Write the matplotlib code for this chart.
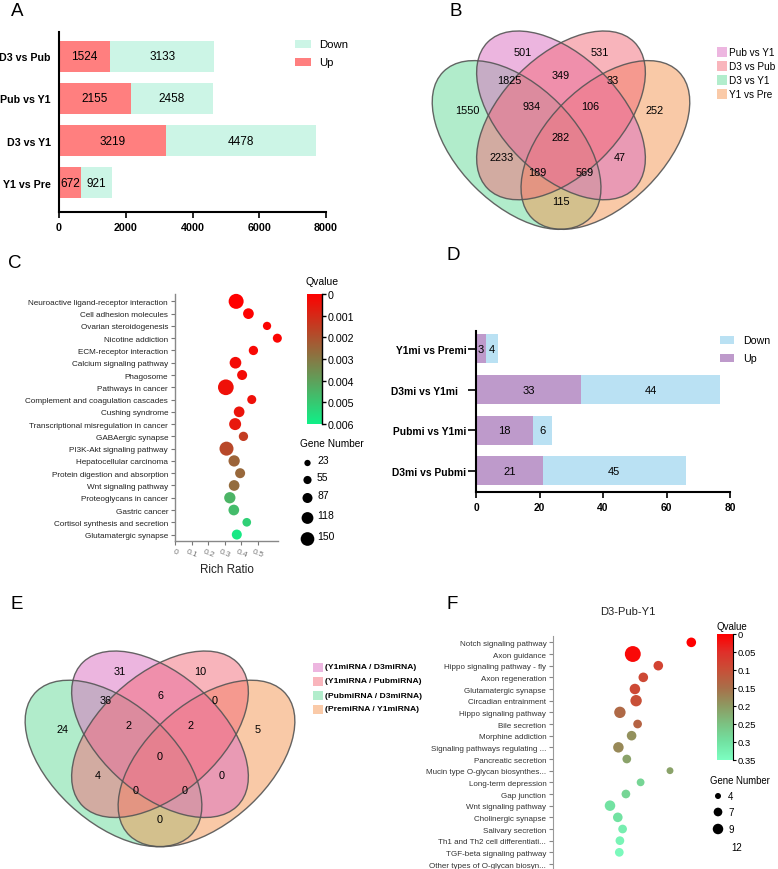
import matplotlib
matplotlib.use('Agg')
import matplotlib.pyplot as plt
import numpy as np
from matplotlib.patches import Ellipse, Rectangle
from matplotlib.colors import LinearSegmentedColormap

plt.rcParams['font.family'] = ['Liberation Sans', 'DejaVu Sans']

# ---------------- data ----------------
# A: DEG mRNA
a_groups = ['D3 vs Pub', 'Pub vs Y1', 'D3 vs Y1', 'Y1 vs Pre']
a_up = [1524, 2155, 3219, 672]
a_down = [3133, 2458, 4478, 921]

# B / E: venn counts, region order:
# S1, S2, S1S3, S1S2, S2S4, S3, S1S2S3, S1S2S4, S4, all, S2S3, S1S4, S2S3S4, S1S3S4, S3S4
b_sets = ['Pub vs Y1', 'D3 vs Pub', 'D3 vs Y1', 'Y1 vs Pre']
b_counts = [501, 531, 1825, 349, 33, 1550, 934, 106, 252, 282, 2233, 47, 189, 569, 115]
e_sets = ['(Y1miRNA / D3miRNA)', '(Y1miRNA / PubmiRNA)', '(PubmiRNA / D3miRNA)', '(PremiRNA / Y1miRNA)']
e_counts = [31, 10, 36, 6, 0, 24, 2, 2, 5, 0, 4, 0, 0, 0, 0]

# C: KEGG mRNA
c_terms = ['Neuroactive ligand-receptor interaction', 'Cell adhesion molecules',
           'Ovarian steroidogenesis', 'Nicotine addiction', 'ECM-receptor interaction',
           'Calcium signaling pathway', 'Phagosome', 'Pathways in cancer',
           'Complement and coagulation cascades', 'Cushing syndrome',
           'Transcriptional misregulation in cancer', 'GABAergic synapse',
           'PI3K-Akt signaling pathway', 'Hepatocellular carcinoma',
           'Protein digestion and absorption', 'Wnt signaling pathway',
           'Proteoglycans in cancer', 'Gastric cancer',
           'Cortisol synthesis and secretion', 'Glutamatergic synapse']
c_ratio = [0.368, 0.442, 0.554, 0.616, 0.472, 0.364, 0.404, 0.306, 0.462, 0.386,
           0.362, 0.412, 0.31, 0.356, 0.392, 0.356, 0.33, 0.354, 0.432, 0.372]
c_q = [0.0, 0.00005, 0.0001, 0.0001, 0.0002, 0.0003, 0.0003, 0.0004, 0.0004, 0.0005,
       0.0006, 0.0015, 0.0018, 0.0025, 0.0026, 0.0027, 0.0045, 0.0047, 0.0052, 0.0058]
c_genes = [173, 99, 57, 70, 75, 116, 87, 185, 70, 99, 121, 75, 156, 109, 87, 99, 109, 99, 64, 87]
c_legend = [23, 55, 87, 118, 150]
c_qticks = [0, 0.001, 0.002, 0.003, 0.004, 0.005, 0.006]

# D: DE miRNA
d_groups = ['Y1mi vs Premi', 'D3mi vs Y1mi   ', 'Pubmi vs Y1mi', 'D3mi vs Pubmi']
d_up = [3, 33, 18, 21]
d_down = [4, 44, 6, 45]

# F: KEGG D3-Pub-Y1
f_terms = ['Notch signaling pathway', 'Axon guidance', 'Hippo signaling pathway - fly',
           'Axon regeneration', 'Glutamatergic synapse', 'Circadian entrainment',
           'Hippo signaling pathway', 'Bile secretion', 'Morphine addiction',
           'Signaling pathways regulating ...', 'Pancreatic secretion',
           'Mucin type O-glycan biosynthes...', 'Long-term depression', 'Gap junction',
           'Wnt signaling pathway', 'Cholinergic synapse', 'Salivary secretion',
           'Th1 and Th2 cell differentiati...', 'TGF-beta signaling pathway',
           'Other types of O-glycan biosyn...']
f_ratio = [0.46, 0.265, 0.35, 0.30, 0.272, 0.276, 0.222, 0.281, 0.261, 0.217, 0.245,
           0.389, 0.291, 0.242, 0.189, 0.215, 0.231, 0.222, 0.22, np.nan]
f_q = [0.0, 0.01, 0.08, 0.09, 0.09, 0.10, 0.14, 0.13, 0.19, 0.18, 0.21, 0.21, 0.28,
       0.28, 0.30, 0.30, 0.32, 0.33, 0.34, np.nan]
f_genes = [8, 15, 8, 8, 9, 10, 10, 7, 8, 9, 7, 5, 6, 7, 9, 8, 7, 7, 7, np.nan]
f_legend = [4, 7, 9, 12]
f_qticks = [0, 0.05, 0.1, 0.15, 0.2, 0.25, 0.3, 0.35]

# ---------------- layout helpers ----------------
W, H = 778, 870
fig = plt.figure(figsize=(W / 100, H / 100), dpi=100)


def box(x0, y0, x1, y1):
    return [x0 / W, 1 - y1 / H, (x1 - x0) / W, (y1 - y0) / H]


def ftext(x, y, s, **kw):
    fig.text(x / W, 1 - y / H, s, **kw)


def swatch(x, y, w, h, color):
    fig.add_artist(Rectangle((x / W, 1 - (y + h / 2) / H), w / W, h / H,
                             transform=fig.transFigure, facecolor=color, edgecolor='none'))


def light(c, a=0.5):
    c = np.array(matplotlib.colors.to_rgb(c))
    return tuple(c * a + (1 - a))


# panel letters
for s, x, y in [('A', 17, 12), ('B', 456, 11), ('C', 15, 264), ('D', 453, 255),
                ('E', 17, 605), ('F', 452, 605)]:
    ftext(x, y, s, fontsize=13.5, ha='center', va='center')

# ---------------- A ----------------
up_c, down_c = '#FF7F7F', '#CCF5E6'
axA = fig.add_axes(box(59, 33, 326, 213))
pos = np.arange(len(a_groups))
axA.barh(pos, a_up, height=0.73, color=up_c)
axA.barh(pos, a_down, left=a_up, height=0.73, color=down_c)
for i in range(len(a_groups)):
    axA.text(a_up[i] / 2, i, str(a_up[i]), ha='center', va='center', fontsize=8.5)
    axA.text(a_up[i] + a_down[i] / 2, i, str(a_down[i]), ha='center', va='center', fontsize=8.5)
axA.set_xlim(0, 8000)
axA.set_ylim(3.69, -0.57)
axA.set_yticks(pos)
axA.set_yticklabels(a_groups, fontweight='bold', fontsize=7.7)
axA.tick_params(axis='y', length=0, pad=6)
axA.set_xticks([0, 2000, 4000, 6000, 8000])
axA.set_xticklabels(['0', '2000', '4000', '6000', '8000'], fontweight='bold', fontsize=7.7)
axA.tick_params(axis='x', length=4, width=1.2, pad=3)
for sp in ['top', 'right']:
    axA.spines[sp].set_visible(False)
for sp in ['left', 'bottom']:
    axA.spines[sp].set_linewidth(1.5)
swatch(295, 45, 16, 8.7, down_c)
swatch(295, 63, 16, 8.7, up_c)
ftext(319, 45, 'Down', fontsize=8.2, va='center')
ftext(319, 63, 'Up', fontsize=8.2, va='center')

# ---------------- Venn helper ----------------
venn_cols = ['#DB6DC1', '#F36B79', '#65DB99', '#F59551']
ell_center = [(0.5, 0.57), (0.5, 0.57), (0.35, 0.47), (0.65, 0.47)]
ell_angle = [135, 45, 135, 45]
label_xy = [(0.37, 0.785), (0.63, 0.785), (0.325, 0.688), (0.5, 0.706), (0.675, 0.688),
            (0.185, 0.588), (0.40, 0.60), (0.60, 0.60), (0.815, 0.588), (0.5, 0.497),
            (0.30, 0.43), (0.70, 0.43), (0.42, 0.38), (0.58, 0.38), (0.5, 0.28)]


def venn4(ax, counts):
    for k in [2, 3, 0, 1]:
        ax.add_patch(Ellipse(ell_center[k], 0.7, 0.4, angle=ell_angle[k],
                             facecolor=venn_cols[k], alpha=0.5, edgecolor='none'))
    for k in range(4):
        ax.add_patch(Ellipse(ell_center[k], 0.7, 0.4, angle=ell_angle[k],
                             facecolor='none', edgecolor='#555555', lw=1.0, alpha=0.9))
    for (x, y), n in zip(label_xy, counts):
        ax.text(x, y, str(n), ha='center', va='center', fontsize=7.8)
    ax.set_xlim(0, 1)
    ax.set_ylim(0.15, 0.9)
    ax.axis('off')


# B
axB = fig.add_axes(box(413, 18.7, 709, 240.7))
venn4(axB, b_counts)
for i, s in enumerate(b_sets):
    y = 53 + i * 14
    swatch(717, y, 10, 10, light(venn_cols[i]))
    ftext(729, y, s, fontsize=7.2, va='center')

# E
axE = fig.add_axes(box(5, 638.9, 315, 857.9))
venn4(axE, e_counts)
for i, s in enumerate(e_sets):
    y = 668 + i * 14
    swatch(313, y, 10, 9, light(venn_cols[i]))
    ftext(325, y, s, fontsize=6.1, fontweight='bold', va='center')

# ---------------- C ----------------
cmapC = LinearSegmentedColormap.from_list('qc', ['#FF0000', '#10F088'])
axC = fig.add_axes(box(175, 295, 278, 541.7))
yc = np.arange(len(c_terms))
sizeC = [((6.3 + 0.058 * (g - 23)) * 0.72) ** 2 for g in c_genes]
axC.scatter(c_ratio, yc, s=sizeC, c=c_q, cmap=cmapC, vmin=0, vmax=0.006, linewidths=0,
            zorder=3, clip_on=False)
axC.set_xlim(0, 0.62)
axC.set_ylim(19.5, -0.6)
axC.set_yticks(yc)
axC.set_yticklabels(c_terms, fontsize=5.9, color='#222222')
axC.set_xticks([0, 0.1, 0.2, 0.3, 0.4, 0.5])
axC.set_xticklabels(['0', '0.1', '0.2', '0.3', '0.4', '0.5'], rotation=-22, fontsize=6,
                    color='#777777', ha='center')
axC.tick_params(axis='both', length=3, width=0.8, color='#777777', pad=2)
for sp in ['top', 'right']:
    axC.spines[sp].set_visible(False)
for sp in ['left', 'bottom']:
    axC.spines[sp].set_color('#888888')
    axC.spines[sp].set_linewidth(1)
ftext(227, 570, 'Rich Ratio', fontsize=8.4, ha='center', va='center', color='#222222')

caxC = fig.add_axes(box(307, 295, 322, 425))
caxC.imshow(np.linspace(0, 0.006, 256)[:, None], aspect='auto', cmap=cmapC,
            extent=[0, 1, 0.006, 0], vmin=0, vmax=0.006)
caxC.set_ylim(0.006, 0)
caxC.set_xticks([])
caxC.yaxis.tick_right()
caxC.set_yticks(c_qticks)
caxC.set_yticklabels([str(v) for v in c_qticks], fontsize=7.7)
caxC.tick_params(axis='y', length=3, width=1, pad=1)
for sp in ['top', 'left', 'bottom']:
    caxC.spines[sp].set_visible(False)
caxC.spines['right'].set_linewidth(1)
ftext(322, 282, 'Qvalue', fontsize=7.5, ha='center', va='center')

ftext(332, 444, 'Gene Number', fontsize=7.3, ha='center', va='center')
legC = fig.add_axes(box(290, 452, 360, 555))
legC.set_xlim(290, 360)
legC.set_ylim(555, 452)
legC.axis('off')
ly = [464, 481, 499, 519, 540]
legC.scatter([307.5] * len(c_legend), ly,
             s=[((6.3 + 0.058 * (g - 23)) * 0.72) ** 2 for g in c_legend], color='k', linewidths=0)
for y, g in zip(ly, c_legend):
    legC.text(317, y - 3, str(g), fontsize=7.5, va='center')

# ---------------- D ----------------
upD, downD = '#BE9ACB', '#BAE1F3'
axD = fig.add_axes(box(476, 332, 730, 493))
pd_ = np.arange(len(d_groups))
axD.barh(pd_, d_up, height=0.71, color=upD)
axD.barh(pd_, d_down, left=d_up, height=0.71, color=downD)
for i in range(len(d_groups)):
    axD.text(d_up[i] / 2, i, str(d_up[i]), ha='center', va='center', fontsize=8)
    axD.text(d_up[i] + d_down[i] / 2, i, str(d_down[i]), ha='center', va='center', fontsize=8)
axD.set_xlim(0, 80)
axD.set_ylim(3.52, -0.44)
axD.set_yticks(pd_)
axD.set_yticklabels(d_groups, fontweight='bold', fontsize=7.4)
axD.tick_params(axis='y', length=6, width=1.2, pad=1)
axD.set_xticks([0, 20, 40, 60, 80])
axD.set_xticklabels(['0', '20', '40', '60', '80'], fontweight='bold', fontsize=7.4)
axD.tick_params(axis='x', length=4, width=1.2, pad=3)
for sp in ['top', 'right']:
    axD.spines[sp].set_visible(False)
for sp in ['left', 'bottom']:
    axD.spines[sp].set_linewidth(1.5)
swatch(720, 341, 14, 8.3, downD)
swatch(720, 359, 14, 8.3, upD)
ftext(743, 341, 'Down', fontsize=7.7, va='center')
ftext(743, 359, 'Up', fontsize=7.7, va='center')

# ---------------- F ----------------
cmapF = LinearSegmentedColormap.from_list(
    'qf', [(0, '#FF0000'), (0.143, '#E0302A'), (0.286, '#C85038'), (0.43, '#A8704A'),
           (0.57, '#8E9A62'), (0.714, '#7CC282'), (0.857, '#72E2A2'), (1, '#7DFFC2')])
axF = fig.add_axes(box(553.3, 636.7, 703.3, 872))
yf = np.arange(len(f_terms))
sizeF = [((6 + 0.9 * (g - 4)) * 0.72) ** 2 if not np.isnan(g) else 0 for g in f_genes]
axF.scatter(f_ratio, yf, s=sizeF, c=f_q, cmap=cmapF, vmin=0, vmax=0.35, linewidths=0, zorder=3)
axF.set_xlim(0, 0.5)
axF.set_ylim(19.6, -0.57)
axF.set_yticks(yf)
axF.set_yticklabels(f_terms, fontsize=5.8, color='#333333')
axF.set_xticks([])
axF.tick_params(axis='y', length=3, width=0.8, color='#888888', pad=2)
for sp in ['top', 'right', 'bottom']:
    axF.spines[sp].set_visible(False)
axF.spines['left'].set_color('#999999')
ftext(628, 612, 'D3-Pub-Y1', fontsize=8, ha='center', va='center', color='#222222')

caxF = fig.add_axes(box(717, 635, 733, 761))
caxF.imshow(np.linspace(0, 0.35, 256)[:, None], aspect='auto', cmap=cmapF,
            extent=[0, 1, 0.35, 0], vmin=0, vmax=0.35)
caxF.set_ylim(0.35, 0)
caxF.set_xticks([])
caxF.yaxis.tick_right()
caxF.set_yticks(f_qticks)
caxF.set_yticklabels([('%g' % v) for v in f_qticks], fontsize=6.8)
caxF.tick_params(axis='y', length=2.5, width=0.8, pad=1)
for sp in ['top', 'left', 'bottom']:
    caxF.spines[sp].set_visible(False)
caxF.spines['right'].set_linewidth(0.8)
ftext(732, 627, 'Qvalue', fontsize=7, ha='center', va='center')

ftext(740, 781, 'Gene Number', fontsize=6.9, ha='center', va='center')
legF = fig.add_axes(box(705, 788, 778, 858))
legF.set_xlim(705, 778)
legF.set_ylim(858, 788)
legF.axis('off')
lyf = [797, 813, 830, 848]
legF.scatter([718] * len(f_legend), lyf,
             s=[((6 + 0.9 * (g - 4)) * 0.72) ** 2 for g in f_legend],
             color=['k', 'k', 'k', 'none'], linewidths=0)
for y, g in zip(lyf, f_legend):
    legF.text(728 if g < 10 else 731, y, str(g), fontsize=7, va='center')

fig.savefig('out.png', dpi=100)
